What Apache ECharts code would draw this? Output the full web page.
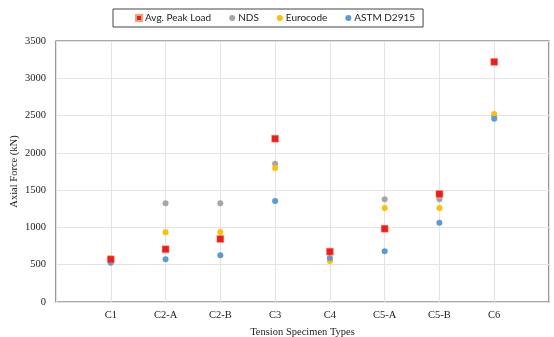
<!DOCTYPE html>
<html>
<head>
<meta charset="utf-8">
<script src="https://cdn.jsdelivr.net/npm/echarts@6/dist/echarts.min.js"></script>
<style>html,body{margin:0;padding:0;background:#fff;}#c{width:554px;height:337px;}</style>
</head>
<body>
<div id="c"></div>
<script>
var categories = ['C1', 'C2-A', 'C2-B', 'C3', 'C4', 'C5-A', 'C5-B', 'C6'];
var avgPeakLoad = [572, 707, 845, 2190, 675, 983, 1448, 3220];
var nds = [560, 1323, 1323, 1855, 570, 1377, 1377, 2490];
var eurocode = [586, 935, 939, 1797, 550, 1260, 1260, 2521];
var astm = [527, 572, 626, 1354, 590, 680, 1063, 2458];
var yTicks = [0, 500, 1000, 1500, 2000, 2500, 3000, 3500];

function pts(arr) { return arr.map(function (v, i) { return [i + 1, v]; }); }

var chart = echarts.init(document.getElementById('c'), null, { renderer: 'canvas' });
var serif = '"Liberation Serif", "Times New Roman", serif';
chart.setOption({
  animation: false,
  backgroundColor: '#fff',
  legend: {
    left: 113, top: 9,
    padding: [4, 8, 4, 22],
    borderColor: '#444', borderWidth: 1,
    itemGap: 18, itemWidth: 6, itemHeight: 6,
    textStyle: { fontFamily: 'Lato, sans-serif', fontSize: 10, color: '#222', padding: [0, 0, 0, -2] },
    data: [
      { name: 'Avg. Peak Load', icon: 'rect' },
      { name: 'NDS', icon: 'circle' },
      { name: 'Eurocode', icon: 'circle' },
      { name: 'ASTM D2915', icon: 'circle' }
    ]
  },
  grid: { left: 56, right: 5, top: 41, bottom: 35, containLabel: false, outerBoundsMode: 'none',
    show: true, borderColor: '#555', borderWidth: 1.2 },
  xAxis: {
    type: 'value', min: 0, max: 9, interval: 1,
    name: 'Tension Specimen Types', nameLocation: 'middle', nameGap: 25, nameMoveOverlap: false,
    nameTextStyle: { fontFamily: serif, fontSize: 10.5, color: '#222' },
    axisLine: { show: false }, axisTick: { show: false },
    axisLabel: {
      fontFamily: serif, fontSize: 10.5, color: '#222', margin: 8,
      formatter: function (v) { return (v >= 1 && v <= categories.length) ? categories[v - 1] : ''; }
    },
    splitLine: { show: true, lineStyle: { color: '#e3e3e3', width: 1 } }
  },
  yAxis: {
    type: 'value', min: yTicks[0], max: yTicks[yTicks.length - 1], interval: 500,
    name: 'Axial Force (kN)', nameLocation: 'middle', nameGap: 36, nameMoveOverlap: false,
    nameTextStyle: { fontFamily: serif, fontSize: 10.5, color: '#222' },
    axisLine: { show: false }, axisTick: { show: false },
    axisLabel: { fontFamily: serif, fontSize: 10.5, color: '#222', margin: 10,
      formatter: function (v) { return String(v); } },
    splitLine: { show: true, lineStyle: { color: '#e3e3e3', width: 1 } }
  },
  series: [
    { name: 'NDS', type: 'scatter', symbol: 'circle', symbolSize: 6, z: 2,
      itemStyle: { color: '#a5a5a5', opacity: 1 }, data: pts(nds) },
    { name: 'Eurocode', type: 'scatter', symbol: 'circle', symbolSize: 6, z: 3,
      itemStyle: { color: '#ffc000', opacity: 1 }, data: pts(eurocode) },
    { name: 'ASTM D2915', type: 'scatter', symbol: 'circle', symbolSize: 6, z: 4,
      itemStyle: { color: '#5b9bd5', opacity: 1 }, data: pts(astm) },
    { name: 'Avg. Peak Load', type: 'scatter', symbol: 'rect', symbolSize: 7, z: 5,
      itemStyle: { color: '#ee1c1c', borderColor: '#f7a070', borderWidth: 0.5, opacity: 1 }, data: pts(avgPeakLoad) }
  ]
});
</script>
</body>
</html>
